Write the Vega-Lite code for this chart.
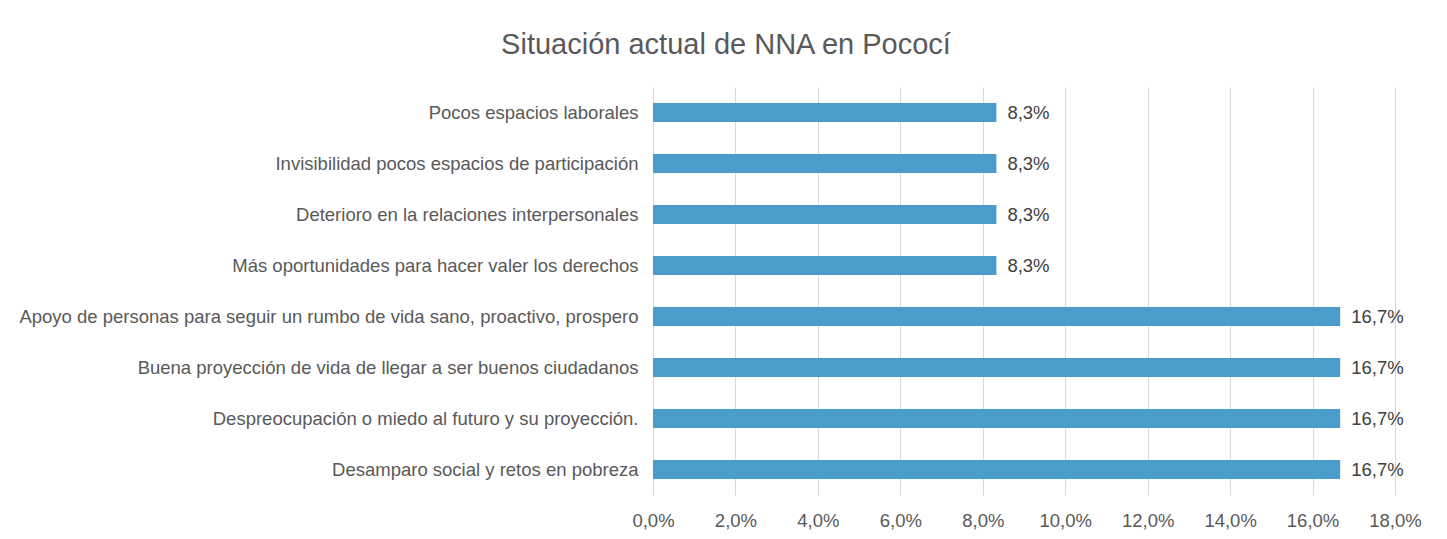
{
  "$schema": "https://vega.github.io/schema/vega-lite/v6.json",
  "width": 742,
  "height": 408,
  "autosize": "none",
  "padding": {"left": 653, "top": 87, "right": 52, "bottom": 44},
  "background": "white",
  "config": {
    "locale": {"number": {"decimal": ",", "thousands": ".", "grouping": [3], "currency": ["", " €"]}},
    "view": {"stroke": null},
    "font": "Liberation Sans"
  },
  "title": {
    "text": "Situación actual de NNA en Pococí",
    "fontSize": 29,
    "fontWeight": "normal",
    "color": "#595959",
    "font": "Liberation Sans",
    "frame": "group",
    "anchor": "middle",
    "dx": -298,
    "offset": 27
  },
  "data": {
    "values": [
      {"cat": "Pocos espacios laborales", "v": 0.0833},
      {"cat": "Invisibilidad pocos espacios de participación", "v": 0.0833},
      {"cat": "Deterioro en la relaciones interpersonales", "v": 0.0833},
      {"cat": "Más oportunidades para hacer valer los derechos", "v": 0.0833},
      {"cat": "Apoyo de personas para seguir un rumbo de vida sano, proactivo, prospero", "v": 0.1667},
      {"cat": "Buena proyección de vida de llegar a ser buenos ciudadanos", "v": 0.1667},
      {"cat": "Despreocupación o miedo al futuro y su proyección.", "v": 0.1667},
      {"cat": "Desamparo social y retos en pobreza", "v": 0.1667}
    ]
  },
  "encoding": {
    "y": {
      "field": "cat",
      "type": "nominal",
      "sort": null,
      "title": null,
      "scale": {"paddingInner": 0.63, "paddingOuter": 0.315},
      "axis": {
        "domain": false,
        "ticks": false,
        "grid": false,
        "labelFontSize": 18.5,
        "labelColor": "#595959",
        "labelPadding": 15,
        "labelLimit": 700,
        "labelFont": "Liberation Sans"
      }
    },
    "x": {
      "field": "v",
      "type": "quantitative",
      "title": null,
      "scale": {"domain": [0, 0.18], "nice": false},
      "axis": {
        "values": [0, 0.02, 0.04, 0.06, 0.08, 0.1, 0.12, 0.14, 0.16, 0.18],
        "format": ".1%",
        "domain": false,
        "ticks": false,
        "grid": true,
        "gridColor": "#d9d9d9",
        "labelFlush": false,
        "labelFontSize": 18.5,
        "labelColor": "#595959",
        "labelPadding": 16,
        "labelFont": "Liberation Sans"
      }
    }
  },
  "layer": [
    {"mark": {"type": "bar", "color": "#4a9ccb"}},
    {
      "mark": {"type": "text", "align": "left", "dx": 11, "fontSize": 18.5, "color": "#404040", "font": "Liberation Sans"},
      "encoding": {"text": {"field": "v", "type": "quantitative", "format": ".1%"}}
    }
  ]
}
